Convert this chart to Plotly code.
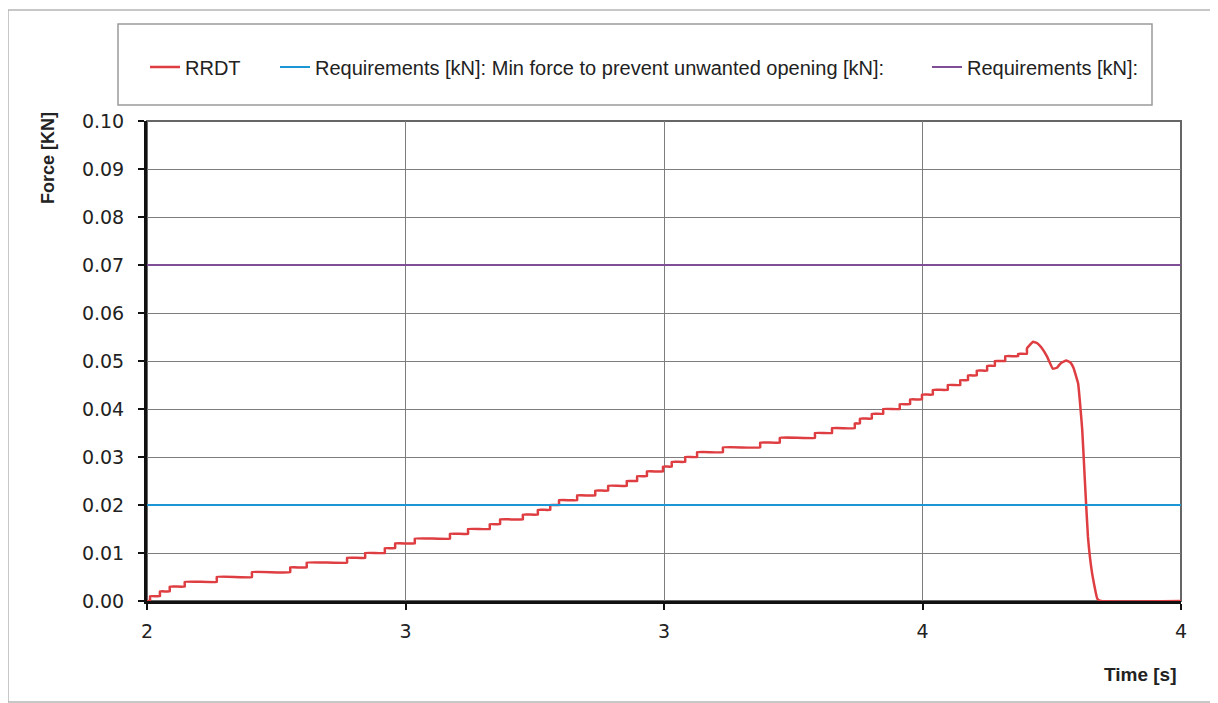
import plotly.graph_objects as go

# ---- data ----
# RRDT staircase: start time of each step [s] and force level [kN]
step_t = [2.000, 2.006, 2.025, 2.044, 2.073, 2.135, 2.203, 2.277, 2.309, 2.387,
          2.422, 2.460, 2.480, 2.518, 2.586, 2.621, 2.663, 2.683, 2.727, 2.756,
          2.780, 2.797, 2.832, 2.867, 2.892, 2.928, 2.948, 2.967, 2.998, 3.015,
          3.041, 3.064, 3.114, 3.186, 3.224, 3.292, 3.325, 3.369, 3.379, 3.402,
          3.424, 3.456, 3.476, 3.499, 3.520, 3.549, 3.573, 3.588, 3.605, 3.625,
          3.640, 3.660, 3.685]
step_f = [0.000, 0.001, 0.002, 0.003, 0.004, 0.005, 0.006, 0.007, 0.008, 0.009,
          0.010, 0.011, 0.012, 0.013, 0.014, 0.015, 0.016, 0.017, 0.018, 0.019,
          0.020, 0.021, 0.022, 0.023, 0.024, 0.025, 0.026, 0.027, 0.028, 0.029,
          0.030, 0.031, 0.032, 0.033, 0.034, 0.035, 0.036, 0.037, 0.038, 0.039,
          0.040, 0.041, 0.042, 0.043, 0.044, 0.045, 0.046, 0.047, 0.048, 0.049,
          0.050, 0.051, 0.0515]
# RRDT smooth end (peak, dip, release)
tail_t = [3.702, 3.714, 3.722, 3.730, 3.741, 3.752, 3.760, 3.768, 3.778, 3.786,
          3.792, 3.801, 3.809, 3.814, 3.820, 3.828, 3.838, 3.845, 4.000]
tail_f = [0.0526, 0.0540, 0.0537, 0.0528, 0.0509, 0.0484, 0.0486, 0.0496, 0.0501, 0.0497,
          0.0486, 0.0453, 0.0356, 0.0252, 0.0134, 0.0058, 0.0005, 0.0, 0.0]

req_open_t = [2.0, 4.0]
req_open_f = [0.02, 0.02]
req_t = [2.0, 4.0]
req_f = [0.07, 0.07]

x_tickvals = [2.0, 2.5, 3.0, 3.5, 4.0]
x_ticktext = ["2", "3", "3", "4", "4"]
y_tickvals = [0.00, 0.01, 0.02, 0.03, 0.04, 0.05, 0.06, 0.07, 0.08, 0.09, 0.10]

# build the RRDT series from step starts + tail
rr_t, rr_f = [], []
for i in range(len(step_t)):
    rr_t.append(step_t[i]); rr_f.append(step_f[i])
    nxt = step_t[i + 1] if i + 1 < len(step_t) else tail_t[0]
    rr_t.append(nxt); rr_f.append(step_f[i])
rr_t += tail_t
rr_f += tail_f

RED = "rgb(222,62,66)"
BLUE = "rgb(28,150,212)"
PURPLE = "rgb(128,78,150)"

# page-pixel geometry of the plot area (page has an 8px body margin)
OFF = 8
FW, FH = 1210, 695
L, R, T, B = 147, 1181, 121, 601
W, H = R - L, B - T
def px(x): return (x - L) / W
def py(y): return (B - y) / H

fig = go.Figure()
fig.add_trace(go.Scatter(x=rr_t, y=rr_f, mode="lines", name="RRDT",
                         line=dict(color=RED, width=2.5, shape="spline", smoothing=0.3),
                         legend="legend"))
fig.add_trace(go.Scatter(x=req_open_t, y=req_open_f, mode="lines",
                         name="Requirements [kN]: Min force to prevent unwanted opening [kN]:",
                         line=dict(color=BLUE, width=2), legend="legend2"))
fig.add_trace(go.Scatter(x=req_t, y=req_f, mode="lines", name="Requirements [kN]:",
                         line=dict(color=PURPLE, width=2), legend="legend3"))

legfont = dict(family="Liberation Sans, Arial", size=20, color="#222")
def leg(textpix):
    return dict(x=px(textpix - 40), y=py(67), xanchor="left", yanchor="middle",
                font=legfont, bgcolor="rgba(0,0,0,0)", borderwidth=0,
                orientation="h")

axis_common = dict(showgrid=True, gridcolor="#7d7d7d", gridwidth=1,
                   showline=True, linecolor="#111", linewidth=3,
                   ticks="outside", ticklen=6, tickwidth=2, tickcolor="#111",
                   tickfont=dict(family="DejaVu Sans", size=19, color="#222"),
                   zeroline=False, fixedrange=True, layer="above traces")

fig.update_layout(
    width=FW, height=FH,
    margin=dict(l=L - OFF, r=OFF + FW - R, t=T - OFF, b=OFF + FH - B, pad=0),
    paper_bgcolor="white", plot_bgcolor="white",
    showlegend=True,
    legend=leg(185), legend2=leg(315), legend3=leg(967),
    xaxis=dict(range=[2, 4], tickvals=x_tickvals, ticktext=x_ticktext,
               ticklabelstandoff=5, **axis_common),
    yaxis=dict(range=[0, 0.10], tickvals=y_tickvals, tickformat=".2f",
               ticklabelstandoff=10, **axis_common),
    shapes=[
        dict(type="rect", xref="paper", yref="paper",
             x0=px(8), x1=px(1216), y0=py(702), y1=py(10),
             line=dict(color="#b5b5b5", width=1.5), layer="below"),
        dict(type="rect", xref="paper", yref="paper",
             x0=px(118), x1=px(1152), y0=py(105), y1=py(24),
             line=dict(color="#9a9a9a", width=1.5), layer="below"),
        dict(type="rect", xref="paper", yref="paper",
             x0=0, x1=1, y0=0, y1=1,
             line=dict(color="#666666", width=2), layer="below"),
    ],
    annotations=[
        dict(text="<b>Force [KN]</b>", xref="paper", yref="paper",
             x=px(48), y=py(158), textangle=-90, showarrow=False,
             xanchor="center", yanchor="middle",
             font=dict(family="Liberation Sans, Arial", size=18, color="#222")),
        dict(text="<b>Time [s]</b>", xref="paper", yref="paper",
             x=px(1140), y=py(674), showarrow=False,
             xanchor="center", yanchor="middle",
             font=dict(family="Liberation Sans, Arial", size=19, color="#222")),
    ],
)

fig.write_html("out.html")
